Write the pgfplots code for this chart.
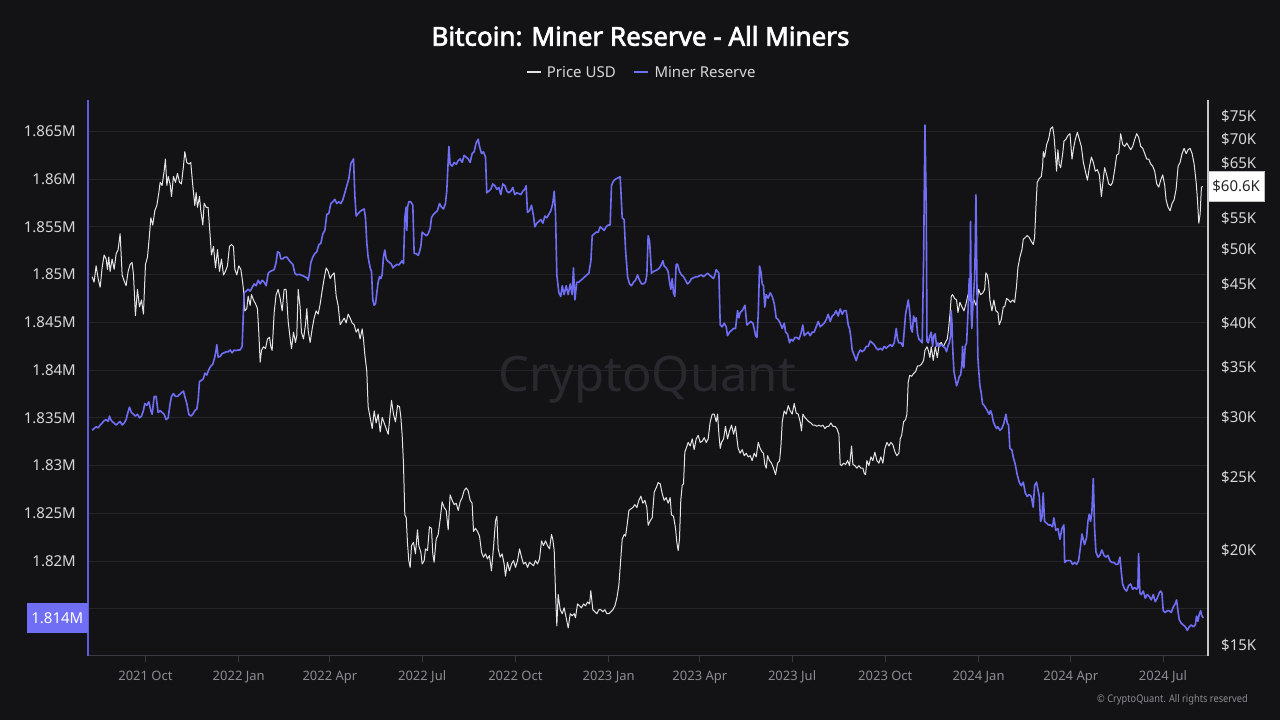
\documentclass[border=0pt]{standalone}
\usepackage{pgfplots}
\pgfplotsset{compat=1.18}
\usepackage{pgfplotstable}
\usepackage{fontspec}
\setmainfont{Noto Sans}
\newfontfamily\cpfont[FakeStretch=0.88]{Noto Sans}
\IfFontExistsTF{Noto Sans Bold}{\newfontfamily\titlefont{Noto Sans Bold}}{\newfontfamily\titlefont[FakeBold=2.5]{Noto Sans}}
\definecolor{bgc}{RGB}{19,19,22}
\definecolor{cpurple}{RGB}{112,110,245}
\definecolor{cpaxis}{RGB}{92,92,220}
\definecolor{cprice}{RGB}{228,228,228}
\definecolor{cgrid}{RGB}{36,36,41}
\definecolor{cxaxis}{RGB}{58,58,64}
\definecolor{clab}{RGB}{215,215,218}
\definecolor{cxlab}{RGB}{140,140,146}
\definecolor{cwm}{RGB}{40,40,46}
\definecolor{craxis}{RGB}{200,200,204}

\pgfplotstableread{
d p
-52.6 46.05
-50.7 45.3
-48.7 47.6
-46.7 45.8
-44.7 44.6
-42.8 47.3
-40.8 49.2
-38.8 48.6
-37.5 47.1
-36.2 48.9
-34.9 46.8
-32.9 48.6
-30.9 47.1
-28.9 49.4
-27.0 50.0
-25.0 52.5
-23.0 46.3
-21.1 45.5
-19.1 44.8
-17.1 46.8
-15.1 47.8
-13.2 48.1
-11.8 46.3
-9.9 40.9
-7.9 44.3
-5.9 42.0
-3.9 42.9
-2.0 41.1
0 47.8
2.0 48.9
3.9 52.2
5.3 55.1
7.2 53.9
9.2 56.3
11.2 57.2
13.2 59.5
14.5 61.4
16.4 60.8
18.4 63.5
19.7 65.9
21.1 60.8
22.4 62.5
24.3 61.1
25.7 58.8
27.6 62.5
29.6 61.4
31.6 63.1
33.6 61.4
35.5 61.1
37.5 64.5
38.8 67.4
40.8 65.2
42.8 64.9
44.7 65.2
46.7 60.8
48.7 57.2
50.0 59.5
51.3 56.9
53.3 58.8
54.6 56.3
56.6 53.9
57.9 57.6
59.9 56.9
61.8 56.9
63.8 52.2
65.1 49.2
67.1 50.5
69.1 47.3
71.1 50.0
73.0 46.8
75.0 48.6
77.0 46.3
78.9 46.8
80.9 47.6
82.9 50.5
84.9 50.8
86.8 50.5
88.2 47.1
90.1 46.3
92.1 47.6
94.1 47.1
95.4 45.8
96.7 44.3
98.0 41.5
100.0 41.8
101.3 43.4
103.3 42.2
104.6 43.6
106.6 42.9
108.6 42.4
110.5 41.8
111.8 38.9
113.2 35.5
114.5 36.8
116.4 37.2
118.4 37.0
120.4 38.1
122.4 38.3
123.7 37.2
125.0 36.8
127.0 41.3
128.9 43.6
130.9 44.3
132.9 43.1
134.9 41.5
136.8 44.3
138.8 44.3
140.8 40.2
142.8 38.1
144.1 37.0
146.1 38.9
148.0 37.7
149.3 38.5
150.7 44.3
152.6 42.0
153.9 38.9
155.9 38.1
157.9 39.8
159.2 41.8
160.5 39.1
162.5 37.7
164.5 39.3
166.4 40.6
168.4 41.5
170.4 41.1
172.4 42.4
174.3 44.1
176.3 45.8
178.3 47.3
180.3 46.8
182.2 45.8
184.2 46.3
186.2 46.6
188.2 43.4
190.1 42.2
192.1 39.8
194.1 40.2
196.1 40.6
198.0 40.0
200.0 41.1
202.0 40.6
203.9 40.0
205.9 39.8
207.9 38.9
209.9 39.3
211.8 38.1
213.8 39.3
215.1 38.1
216.4 36.4
218.4 34.5
219.7 31.0
223.7 29.0
225.7 30.6
227.6 29.5
229.6 30.3
231.6 28.7
233.6 30.0
235.5 29.5
237.5 29.0
239.5 28.5
241.4 30.3
242.8 31.6
244.7 30.3
246.7 29.6
248.7 31.1
250.7 31.0
252.0 30.0
253.3 28.4
254.6 26.0
255.9 22.3
257.3 22.1
258.5 20.5
259.8 19.4
261.2 19.0
262.5 20.3
264.4 20.5
266.4 19.8
268.4 21.3
269.7 20.3
271.7 19.9
273.0 19.2
275.0 19.4
276.3 20.1
278.3 20.0
280.2 21.5
282.2 21.4
283.5 19.8
284.8 19.3
286.8 20.7
288.8 21.0
290.8 22.0
292.7 23.2
294.7 22.8
296.7 22.6
298.7 21.3
300.6 23.7
302.6 23.3
304.6 23.0
306.6 23.1
308.6 22.6
310.5 23.2
312.5 23.5
314.4 24.0
316.4 24.2
318.4 24.0
320.4 23.3
322.3 23.1
323.7 21.2
325.6 21.4
327.6 21.2
329.6 20.9
331.6 19.9
333.5 19.6
335.5 19.8
337.5 19.5
339.4 19.7
341.4 18.8
343.4 20.2
345.4 21.9
346.7 22.2
348.0 20.1
350.0 19.6
351.9 19.8
353.9 19.2
355.2 18.5
357.2 19.3
359.2 18.8
361.2 19.2
363.2 19.4
365.1 19.0
367.1 19.4
369.1 20.1
371.1 19.6
373.0 19.2
375.0 19.3
377.0 19.0
378.9 19.3
380.9 19.2
382.9 19.1
384.8 19.4
386.8 19.2
388.8 19.5
390.8 20.6
392.7 20.3
394.7 20.6
396.7 20.3
398.7 20.1
400.6 21.0
401.9 20.7
403.3 20.0
404.6 17.6
405.9 15.9
407.2 17.5
409.2 16.7
411.2 16.5
413.1 16.8
415.1 16.3
417.1 15.8
419.1 16.5
421.0 16.4
423.0 16.5
424.3 16.3
426.3 17.0
428.3 16.9
430.2 16.8
432.2 17.0
434.2 16.9
436.2 17.1
438.2 17.0
439.4 17.7
441.4 16.7
443.4 16.6
445.4 16.5
447.4 16.7
449.3 16.7
451.3 16.6
453.3 16.7
455.2 16.5
457.2 16.5
459.2 16.6
461.2 16.7
463.2 16.9
465.1 17.3
467.1 18.0
469.1 19.6
470.4 20.7
472.3 21.0
473.7 20.9
475.0 21.5
477.0 22.6
478.9 22.7
480.9 22.8
482.9 23.0
484.9 22.8
486.8 23.3
488.8 23.6
490.8 23.1
492.8 23.3
494.7 22.8
496.0 21.6
498.0 21.9
500.0 22.1
502.0 23.9
503.9 24.2
505.9 24.6
507.9 24.5
509.8 23.8
511.8 23.3
513.8 23.5
515.7 23.1
517.7 23.5
519.0 22.3
521.0 22.2
523.0 21.4
524.3 20.5
525.6 20.0
526.9 20.7
528.2 23.3
529.6 24.4
530.9 24.5
532.2 27.0
533.5 27.3
535.5 27.8
537.5 27.5
539.5 28.1
541.4 27.2
543.4 28.1
545.4 28.4
547.3 27.8
549.3 27.9
551.3 28.2
553.3 27.8
555.2 28.1
557.2 29.6
559.2 30.3
561.2 30.3
563.1 29.6
564.5 30.3
565.8 28.5
567.1 27.3
568.4 27.8
570.4 28.1
572.3 29.2
574.3 28.1
576.3 28.8
578.3 29.3
580.3 28.5
582.2 29.2
583.5 28.2
584.8 27.3
586.8 26.9
588.8 27.2
590.8 26.7
592.7 26.9
594.7 26.6
596.7 26.7
598.6 26.3
600.6 26.9
602.6 26.6
604.6 27.8
606.5 27.3
608.5 27.0
609.8 26.9
611.1 26.0
612.5 25.7
613.8 26.7
615.8 26.3
617.7 26.1
619.7 25.7
621.7 25.2
623.7 26.1
625.7 26.3
627.0 27.5
628.3 29.6
630.2 30.6
632.2 30.3
634.2 31.1
636.2 30.6
638.1 30.3
640.1 31.3
642.1 30.4
644.1 30.3
646.0 29.6
647.3 28.8
648.7 30.3
650.6 30.0
652.6 29.8
654.6 29.6
656.6 29.5
658.5 29.3
660.5 29.3
662.5 29.2
664.5 29.3
666.4 29.2
668.4 29.3
670.4 29.0
672.4 29.2
674.3 29.2
676.3 29.5
678.3 29.2
680.3 29.2
682.2 29.0
684.2 28.5
685.5 26.0
686.8 25.9
688.8 26.1
690.8 26.0
692.8 26.3
694.7 25.9
696.7 27.5
698.0 26.0
700.0 25.9
702.0 25.7
703.9 25.9
705.9 25.7
707.9 25.7
709.2 25.3
710.5 25.2
711.8 26.3
713.8 25.9
715.8 26.6
717.7 26.3
719.7 27.0
721.7 26.3
723.7 26.1
725.6 26.6
727.6 26.1
729.6 27.3
731.6 27.8
733.6 27.5
735.5 27.8
737.5 27.6
739.5 27.0
741.4 26.7
743.4 26.9
744.7 28.1
746.1 28.4
748.0 29.6
750.0 29.8
751.3 30.3
752.6 33.4
754.0 34.1
755.9 34.0
757.9 34.3
759.9 34.5
761.8 35.1
763.8 35.1
765.8 35.3
767.8 35.7
769.1 36.8
771.1 37.2
772.4 36.8
774.0 36.0
775.3 37.2
777.3 35.7
779.3 37.2
781.3 36.0
783.2 37.5
785.2 37.7
787.2 37.2
789.2 37.7
791.1 38.1
792.4 39.3
793.8 41.1
795.1 43.4
796.4 43.6
798.4 43.1
800.3 42.9
801.7 41.3
803.6 42.6
805.6 42.0
807.6 41.5
809.6 42.4
811.6 43.6
813.6 42.9
815.5 42.4
817.5 42.9
819.5 42.2
820.8 42.9
822.0 44.3
824.0 43.6
826.0 43.8
828.0 44.3
829.2 46.6
830.6 46.3
831.9 45.3
833.2 42.9
835.2 41.5
837.1 42.9
839.1 41.5
841.1 41.3
842.4 39.8
844.4 40.4
846.4 42.0
847.7 42.0
849.7 43.1
851.6 42.9
853.6 42.6
855.6 42.9
857.6 42.6
859.5 44.8
860.8 47.3
862.8 48.9
864.8 50.0
866.1 51.6
868.1 51.9
870.0 52.2
872.0 51.9
874.0 51.3
876.0 50.8
877.3 51.9
878.6 56.9
879.9 61.4
881.9 62.1
883.9 62.5
885.2 64.5
885.9 67.4
887.2 66.3
889.2 68.9
891.1 70.0
893.1 72.3
895.1 72.7
896.4 70.8
897.8 67.0
899.0 63.5
900.3 67.8
901.6 64.9
903.0 64.2
905.0 67.0
906.3 69.6
908.2 70.0
910.2 70.8
912.2 71.2
914.2 65.9
915.5 67.8
917.5 70.0
919.5 71.5
921.4 70.0
923.4 68.5
925.4 65.2
927.4 63.5
929.4 61.8
931.3 64.2
933.3 66.3
935.3 65.2
937.2 63.5
939.2 63.8
941.2 62.8
943.2 58.8
945.1 62.1
946.4 64.2
948.4 62.8
950.4 61.1
952.4 60.8
954.3 61.4
956.3 63.8
958.3 66.7
960.3 67.0
962.2 71.2
964.2 68.9
966.2 68.5
968.2 69.2
970.1 68.5
972.1 67.8
974.1 68.5
976.1 70.0
978.0 71.2
980.0 70.4
982.0 68.5
984.0 68.1
986.0 67.0
987.9 65.9
989.9 65.9
991.9 64.9
993.8 64.5
995.8 63.5
997.8 61.1
999.8 60.5
1001.7 61.8
1003.7 62.8
1005.7 60.8
1007.0 58.2
1009.0 56.9
1011.0 56.3
1013.0 57.6
1014.9 58.2
1016.9 60.1
1018.9 64.5
1020.8 65.2
1022.8 67.0
1024.8 68.1
1026.8 67.0
1028.8 67.8
1030.7 68.1
1032.7 67.0
1034.7 64.9
1036.7 61.4
1038.0 58.2
1039.3 54.2
1040.6 55.7
1041.9 60.5
1043.2 60.6
}\pricedata

\pgfplotstableread{
d r
-52.6 1833.70
-50.7 1833.89
-48.7 1834.07
-46.7 1833.96
-44.7 1834.26
-42.8 1834.45
-40.8 1834.71
-38.8 1834.82
-36.8 1834.63
-35.5 1835.19
-34.2 1834.82
-32.9 1834.63
-30.9 1834.45
-28.9 1834.26
-27.0 1834.45
-25.0 1834.63
-23.0 1834.26
-21.1 1834.45
-19.1 1834.82
-17.8 1835.38
-15.8 1836.13
-13.8 1835.57
-11.8 1835.38
-9.9 1835.19
-7.9 1835.38
-5.9 1835.01
-3.9 1835.19
-2.0 1835.76
-0.7 1836.50
1.3 1836.32
3.3 1836.69
5.3 1835.76
6.6 1835.38
8.6 1837.25
10.5 1837.25
12.5 1835.57
14.5 1835.76
16.4 1835.57
18.4 1835.38
20.4 1834.82
22.4 1835.01
24.3 1836.50
25.7 1837.25
27.6 1837.55
29.6 1837.25
31.6 1837.25
33.6 1837.44
35.5 1837.63
37.5 1837.81
38.8 1837.25
40.8 1836.50
42.8 1835.38
44.7 1835.19
46.7 1835.38
48.7 1835.76
50.7 1835.94
52.0 1836.88
53.3 1838.82
55.3 1838.93
57.2 1839.12
58.6 1839.68
60.5 1839.49
62.5 1840.06
64.5 1840.43
66.4 1840.62
68.4 1841.37
69.7 1842.11
70.4 1842.67
71.7 1841.37
73.7 1841.44
75.7 1841.74
77.6 1841.81
79.6 1841.93
81.6 1841.93
83.6 1842.11
85.5 1841.81
87.5 1842.11
89.5 1842.04
91.4 1842.11
93.4 1842.11
95.4 1842.49
96.7 1846.23
97.4 1848.10
99.3 1848.28
101.3 1848.47
103.3 1848.28
105.3 1848.66
107.2 1849.03
109.2 1848.84
111.2 1849.41
113.2 1849.03
115.1 1849.41
117.1 1849.22
119.1 1848.84
121.1 1850.15
123.0 1850.34
125.0 1850.42
127.0 1850.53
128.9 1851.28
130.3 1852.40
132.2 1852.29
133.6 1851.65
135.5 1851.65
137.5 1851.84
139.5 1851.84
141.4 1851.54
143.4 1851.28
145.4 1851.09
147.4 1850.15
149.3 1849.97
151.3 1850.04
153.3 1849.97
155.3 1849.89
157.2 1849.78
159.2 1849.67
160.5 1849.41
161.8 1850.15
163.2 1851.28
165.1 1851.84
167.1 1852.21
169.1 1852.40
171.1 1853.15
173.0 1853.26
175.0 1854.27
177.0 1854.64
178.9 1856.32
180.9 1856.40
182.9 1857.45
184.9 1857.63
186.8 1857.89
188.8 1857.45
190.8 1857.63
192.8 1857.45
194.7 1857.82
196.7 1858.57
198.7 1859.32
200.7 1860.06
202.6 1861.63
203.9 1861.86
205.3 1862.12
206.6 1858.27
207.9 1856.14
209.9 1856.40
211.8 1856.62
213.8 1856.77
215.8 1856.88
217.1 1855.95
218.4 1853.33
219.7 1851.84
221.7 1850.71
223.0 1850.34
224.3 1847.35
225.7 1846.79
227.0 1846.97
228.3 1848.10
229.6 1849.22
230.9 1849.78
232.2 1849.59
233.5 1849.97
234.8 1851.84
236.2 1852.58
237.5 1851.65
238.8 1851.46
240.8 1851.28
242.7 1851.09
244.1 1850.71
246.0 1850.90
248.0 1851.09
250.0 1851.01
251.9 1851.28
253.3 1851.46
254.6 1851.16
255.9 1855.95
257.2 1857.07
257.9 1854.64
258.6 1857.07
259.8 1857.63
261.8 1857.63
263.8 1857.26
265.1 1852.21
267.1 1852.21
269.1 1852.02
270.4 1852.40
271.7 1852.96
273.0 1854.45
275.0 1854.27
277.0 1854.08
278.9 1854.27
280.9 1854.83
282.2 1855.95
284.2 1856.32
286.2 1856.51
288.1 1856.70
290.1 1857.45
292.1 1857.07
294.1 1856.88
296.0 1857.45
297.3 1858.75
298.7 1861.93
299.4 1863.43
300.6 1861.56
302.6 1861.37
304.6 1861.75
306.6 1861.56
308.5 1861.93
310.5 1862.12
312.5 1861.75
314.4 1862.49
316.4 1862.31
318.4 1862.12
320.4 1861.75
322.3 1862.68
324.3 1862.87
326.3 1863.80
328.3 1864.18
329.6 1863.43
331.6 1862.68
333.5 1862.87
335.5 1862.31
336.8 1858.57
338.8 1858.75
340.8 1858.94
342.7 1859.50
344.7 1859.32
346.7 1858.94
348.7 1859.13
350.6 1858.38
352.6 1859.50
354.6 1859.32
356.6 1858.75
358.5 1858.57
360.5 1858.75
362.5 1859.13
364.4 1858.38
366.4 1858.57
368.4 1858.49
370.4 1858.38
372.3 1858.75
374.3 1858.94
375.6 1859.32
376.9 1856.51
378.9 1856.70
380.9 1857.26
382.9 1856.14
384.2 1855.01
386.2 1855.39
388.1 1855.58
390.1 1855.76
392.1 1855.39
394.1 1856.14
396.0 1855.95
398.0 1856.32
400.0 1856.70
401.9 1857.45
403.3 1858.75
404.6 1856.32
405.9 1849.97
407.9 1848.10
409.8 1847.72
411.2 1848.84
413.1 1847.91
415.1 1848.84
417.1 1847.91
419.1 1849.03
421.0 1847.91
422.3 1850.71
423.7 1847.35
425.6 1849.22
427.6 1849.22
429.6 1849.41
431.6 1849.59
433.5 1849.78
435.5 1849.97
437.5 1850.15
439.5 1851.46
440.8 1854.08
442.8 1854.27
444.7 1854.45
446.7 1854.45
448.7 1855.01
450.6 1854.83
452.6 1854.64
454.6 1855.01
456.6 1855.20
458.5 1855.20
459.8 1859.32
461.2 1859.69
462.5 1859.88
464.5 1860.06
466.4 1860.14
468.4 1860.25
470.4 1855.95
472.3 1855.76
473.7 1852.58
475.7 1849.78
477.6 1849.03
479.6 1848.84
481.6 1849.22
483.5 1849.41
485.5 1849.97
487.5 1849.41
489.5 1849.03
491.4 1849.03
493.4 1849.22
494.7 1849.97
496.0 1854.08
497.4 1853.52
499.3 1850.15
501.3 1850.34
503.3 1850.42
505.2 1850.53
507.2 1850.71
509.2 1851.09
510.5 1851.46
511.8 1850.90
513.8 1850.71
515.7 1850.34
517.1 1849.22
518.4 1848.47
519.7 1849.59
521.0 1848.10
522.3 1847.72
523.6 1851.09
525.0 1851.09
526.9 1850.34
528.9 1849.97
530.9 1849.78
532.9 1849.41
534.8 1849.03
536.8 1849.22
538.8 1849.59
540.8 1849.67
542.7 1849.78
544.7 1849.78
546.7 1849.89
548.6 1849.97
550.6 1849.78
552.6 1849.97
554.6 1850.15
556.5 1849.97
558.5 1849.78
560.5 1849.59
561.8 1849.97
563.1 1850.53
564.4 1850.34
565.8 1850.15
567.1 1844.73
569.0 1844.54
571.0 1844.92
573.0 1844.54
574.3 1843.61
576.3 1843.98
578.3 1844.17
580.2 1844.36
582.2 1844.36
584.2 1846.23
585.5 1845.48
586.8 1846.04
588.8 1846.23
591.5 1846.79
593.4 1844.73
595.4 1844.92
597.4 1845.10
599.3 1844.92
600.6 1844.36
602.0 1843.61
603.3 1843.42
604.6 1845.85
605.9 1850.90
607.2 1850.34
608.5 1849.03
609.8 1848.84
611.1 1846.60
612.5 1847.91
614.4 1847.54
616.4 1848.10
618.4 1847.72
620.4 1846.97
622.3 1845.48
624.3 1845.29
626.3 1844.92
628.3 1844.36
630.3 1844.92
631.6 1843.98
633.5 1843.80
635.5 1842.86
636.8 1843.23
638.8 1843.05
640.8 1843.42
642.7 1843.42
644.7 1843.23
646.7 1843.80
648.6 1844.73
650.0 1843.61
651.9 1843.80
653.9 1843.98
655.9 1843.61
657.9 1843.98
659.8 1843.98
661.8 1844.54
663.8 1845.10
665.8 1844.54
667.7 1844.73
669.7 1844.92
671.7 1845.29
673.6 1845.85
675.6 1845.10
677.6 1845.67
679.6 1845.85
681.5 1846.23
683.5 1845.67
685.5 1846.41
687.5 1845.85
689.4 1846.23
691.4 1846.23
693.4 1844.73
694.7 1844.36
696.0 1843.42
697.3 1842.11
699.3 1841.55
701.3 1840.99
703.3 1841.74
705.3 1842.11
707.2 1841.93
709.2 1842.11
711.2 1842.49
713.2 1842.49
715.1 1843.05
717.1 1842.86
719.1 1842.67
721.1 1842.30
723.0 1842.11
725.0 1842.30
727.0 1842.11
728.9 1842.49
730.9 1842.30
732.9 1842.49
734.9 1842.67
736.8 1842.49
738.8 1842.86
740.8 1844.36
742.1 1843.23
743.4 1842.86
745.4 1842.86
747.4 1842.49
748.7 1844.17
750.0 1845.85
751.3 1846.60
752.6 1847.35
754.0 1846.23
755.3 1844.36
756.6 1843.98
757.9 1845.67
759.2 1845.10
760.5 1845.48
761.8 1843.80
763.2 1843.23
765.1 1843.05
766.4 1842.86
767.8 1851.84
769.1 1865.67
770.4 1857.07
771.1 1843.05
772.4 1842.86
774.0 1843.61
775.3 1843.98
776.6 1842.49
777.9 1843.61
779.2 1843.80
780.6 1842.49
781.9 1842.86
783.2 1842.49
785.2 1842.67
787.1 1842.49
789.1 1842.30
790.4 1841.93
791.7 1842.49
793.1 1842.86
794.4 1843.61
795.0 1846.23
795.7 1845.10
796.4 1842.49
797.7 1839.87
799.0 1839.12
800.3 1838.37
801.6 1838.75
802.9 1839.31
804.3 1839.49
805.6 1840.62
806.2 1842.49
806.9 1841.37
807.5 1840.24
808.8 1842.49
810.2 1842.86
811.5 1845.85
812.8 1849.59
813.5 1847.35
814.1 1855.58
814.8 1845.85
815.4 1844.36
816.7 1847.35
818.1 1849.59
818.7 1852.58
819.4 1858.38
820.0 1853.33
820.7 1845.85
821.3 1841.37
822.0 1840.24
823.3 1838.37
824.6 1837.63
825.9 1836.50
827.3 1836.32
828.6 1836.13
830.6 1835.76
832.5 1835.38
833.8 1835.76
835.2 1835.38
836.5 1834.63
837.8 1834.26
839.8 1833.89
841.1 1834.07
843.1 1833.70
845.0 1833.89
847.0 1834.45
849.0 1835.38
850.3 1834.45
851.6 1834.26
852.9 1831.83
854.9 1831.64
856.2 1830.89
858.2 1830.15
860.2 1829.02
862.1 1828.28
864.1 1827.90
866.1 1828.28
868.1 1827.15
870.0 1826.78
872.0 1826.97
874.0 1826.78
875.9 1825.66
877.3 1827.90
879.2 1828.28
880.5 1827.53
881.9 1826.78
883.2 1824.16
884.5 1824.54
885.8 1827.15
887.1 1824.16
889.1 1823.98
891.1 1823.79
893.1 1823.79
895.0 1823.60
896.3 1824.54
898.3 1823.23
900.3 1823.41
902.3 1822.29
904.2 1823.41
906.2 1823.79
906.9 1819.86
908.8 1820.05
910.8 1820.05
912.8 1820.05
914.7 1819.67
916.7 1819.86
918.7 1819.67
920.7 1820.05
922.6 1821.54
924.0 1822.85
925.3 1822.29
926.6 1821.73
928.6 1822.48
929.9 1824.16
931.2 1824.91
932.5 1824.16
933.8 1825.10
935.2 1828.65
936.5 1823.41
937.8 1820.98
939.8 1820.42
941.7 1820.61
943.7 1821.17
945.7 1820.61
947.7 1820.42
949.6 1820.61
951.6 1820.05
953.6 1819.86
955.6 1819.86
957.5 1819.67
959.5 1819.67
961.5 1820.42
962.8 1818.93
964.1 1817.62
966.1 1817.06
968.1 1816.87
970.0 1817.43
972.0 1817.62
974.0 1817.06
976.0 1817.24
977.9 1817.06
979.2 1817.24
979.9 1820.80
981.2 1816.68
982.5 1816.50
984.5 1816.87
986.5 1816.12
988.4 1816.50
990.4 1816.31
992.4 1815.94
994.4 1816.50
996.3 1815.75
998.3 1816.12
1000.3 1816.68
1001.6 1816.87
1002.9 1816.68
1004.2 1814.81
1006.2 1814.63
1008.2 1814.81
1010.2 1814.81
1012.1 1814.63
1014.1 1815.19
1016.1 1815.56
1017.4 1815.94
1018.7 1814.81
1020.0 1813.88
1022.0 1813.50
1024.0 1813.32
1026.0 1813.13
1028.0 1812.76
1029.9 1813.13
1031.9 1813.32
1033.9 1813.13
1035.9 1813.32
1037.1 1814.25
1038.4 1813.69
1039.8 1814.44
1041.1 1814.81
1042.4 1814.25
1043.7 1814.07
}\reservedata

\begin{document}
\begin{tikzpicture}[x=1pt,y=1pt]
\fill[bgc] (0,0) rectangle (1280,720);
\path[use as bounding box] (0,0) rectangle (1280,720);
\node[anchor=base, text=white, inner sep=0pt, font=\titlefont\fontsize{26}{30}\selectfont] at (640.5,674.3) {Bitcoin: Miner Reserve - All Miners};
\draw[cprice, line width=1.2pt] (527,648) -- (541,648);
\node[anchor=base west, text=clab, inner sep=0pt, font=\fontsize{15}{18}\selectfont] at (546.7,642.7) {Price USD};
\draw[cpurple, line width=1.6pt] (634,648) -- (648,648);
\node[anchor=base west, text=clab, inner sep=0pt, font=\fontsize{15}{18}\selectfont] at (654.3,642.7) {Miner Reserve};
\node[anchor=base, text=cwm, inner sep=0pt, font=\fontsize{49}{56}\selectfont] at (647,328) {CryptoQuant};
\node[anchor=base east, text=cxlab, inner sep=0pt, font=\cpfont\fontsize{10.5}{12}\selectfont] at (1248,17) {© CryptoQuant. All rights reserved};

\begin{axis}[
  at={(88pt,64pt)}, anchor=south west, width=1120pt, height=556pt, scale only axis,
  xmin=-56.7, xmax=1048.4, ymin=1810.07, ymax=1868.29,
  separate axis lines,
  axis x line*=bottom, axis y line*=left,
  x axis line style={draw=cxaxis, line width=1pt, -},
  y axis line style={draw=cpaxis, line width=2pt, -},
  xtick={0,92,182,273,365,457,547,638,730,822,913,1004},
  xticklabels={2021 Oct,2022 Jan,2022 Apr,2022 Jul,2022 Oct,2023 Jan,2023 Apr,2023 Jul,2023 Oct,2024 Jan,2024 Apr,2024 Jul},
  xtick align=outside, major tick length=6pt,
  xtick style={draw=cxaxis, line width=1pt},
  ytick={1815,1820,1825,1830,1835,1840,1845,1850,1855,1860,1865},
  yticklabels={,1.82M,1.825M,1.83M,1.835M,1.84M,1.845M,1.85M,1.855M,1.86M,1.865M},
  ytick style={draw=none},
  ymajorgrids, grid style={draw=cgrid, line width=1pt},
  xticklabel style={font=\fontsize{13}{15}\selectfont, text=cxlab, inner sep=0pt, anchor=north, text height=9.3pt, text depth=0pt, yshift=-9pt},
  yticklabel style={font=\fontsize{15}{18}\selectfont, text=clab, inner sep=0pt, anchor=east, xshift=-12pt},
]
\end{axis}

\begin{axis}[
  at={(88pt,64pt)}, anchor=south west, width=1120pt, height=556pt, scale only axis,
  xmin=-56.7, xmax=1048.4, ymode=log, ymin=14.506, ymax=78.9,
  axis x line=none, axis y line*=right,
  y axis line style={draw=craxis, line width=2pt, -},
  ytick={15,20,25,30,35,40,45,50,55,65,70,75},
  yticklabels={\$15K,\$20K,\$25K,\$30K,\$35K,\$40K,\$45K,\$50K,\$55K,\$65K,\$70K,\$75K},
  ytick style={draw=none},
  yticklabel style={font=\fontsize{15}{18}\selectfont, text=clab, inner sep=0pt, anchor=west, xshift=13pt},
  clip=false,
]
\addplot[cprice, line width=1pt, line join=round] table[x=d,y=p] {\pricedata};
\node[fill=white, draw=black!25, text=black!85, anchor=west, minimum width=56pt, minimum height=30pt, inner sep=0pt, font=\fontsize{15}{18}\selectfont] at (axis cs:1048.4,60.6) {\$60.6K};
\end{axis}

\begin{axis}[
  at={(88pt,64pt)}, anchor=south west, width=1120pt, height=556pt, scale only axis,
  xmin=-56.7, xmax=1048.4, ymin=1810.07, ymax=1868.29,
  hide axis, clip=false,
]
\addplot[cpurple, line width=1.6pt, line join=round] table[x=d,y=r] {\reservedata};
\node[fill=cpurple, text=white, anchor=east, minimum width=61pt, minimum height=30pt, inner sep=0pt, font=\fontsize{15}{18}\selectfont] at (axis cs:-56.7,1814.07) {1.814M};
\end{axis}
\end{tikzpicture}
\end{document}
